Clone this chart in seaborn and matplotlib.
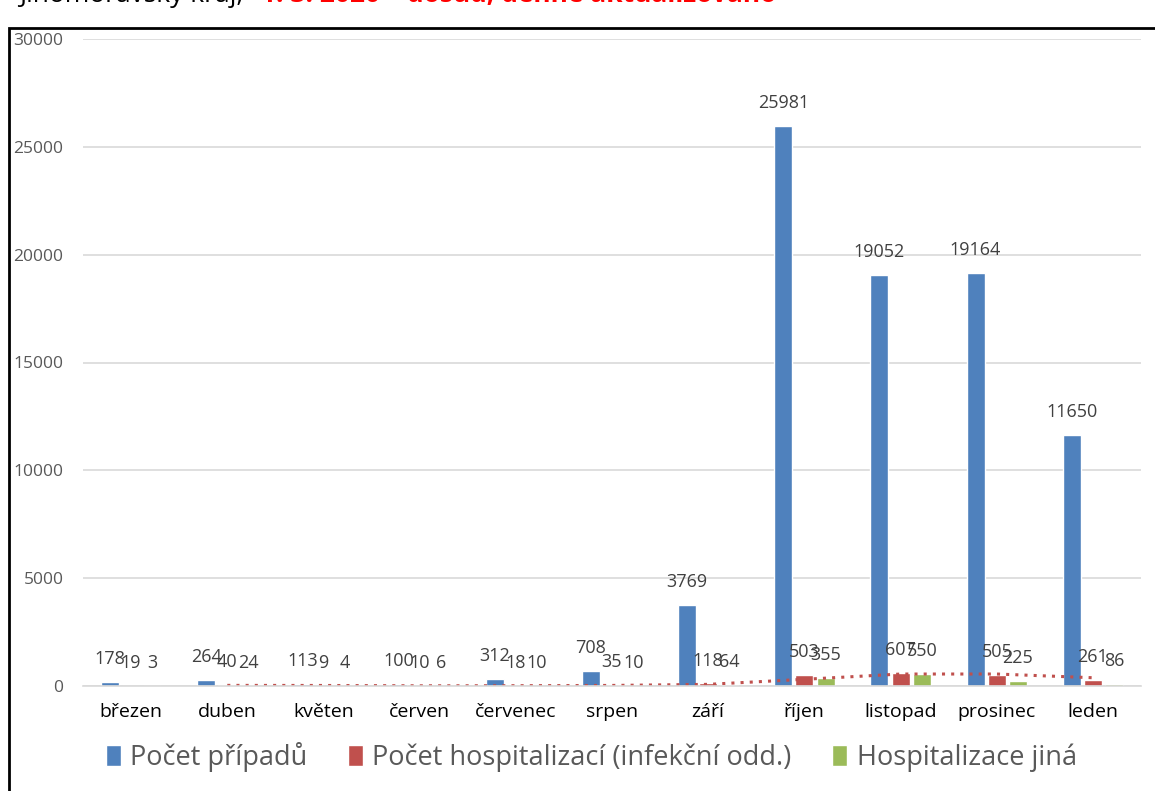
import pandas as pd
import matplotlib.pyplot as plt
from matplotlib.patches import Rectangle
import seaborn as sns

# data
mesice = ['březen', 'duben', 'květen', 'červen', 'červenec', 'srpen',
          'září', 'říjen', 'listopad', 'prosinec', 'leden']
pripady = [178, 264, 113, 100, 312, 708, 3769, 25981, 19052, 19164, 11650]
hosp_infekcni = [19, 40, 9, 10, 18, 35, 118, 503, 607, 505, 261]
hosp_jina = [3, 24, 4, 6, 10, 10, 64, 355, 550, 225, 86]
rady = ['Počet případů', 'Počet hospitalizací (infekční odd.)', 'Hospitalizace jiná']
barvy = ['#4F81BD', '#C0504D', '#9BBB59']

sns.set_style("white")
plt.rcParams['font.family'] = ['Open Sans', 'DejaVu Sans']

df = pd.DataFrame({
    'Měsíc': mesice * 3,
    'Hodnota': pripady + hosp_infekcni + hosp_jina,
    'Řada': [rady[0]] * 11 + [rady[1]] * 11 + [rady[2]] * 11,
})

fig = plt.figure(figsize=(11.55, 7.91), dpi=100)
ax = fig.add_axes([83 / 1155, 1 - 686 / 791, 1058 / 1155, (686 - 39) / 791])

sns.barplot(data=df, x='Měsíc', y='Hodnota', hue='Řada', hue_order=rady,
            palette=barvy, saturation=1, width=0.66, gap=0.15, ax=ax)

for cont in ax.containers:
    ax.bar_label(cont, padding=10, fontsize=13, color='#404040')

# klouzavý průměr (2 období) hospitalizací - tečkovaná spojnice trendu
trend = pd.Series(hosp_infekcni).rolling(2).mean()
ax.plot(range(1, 11), trend[1:], color='#C0504D', ls=(0, (1, 2)), lw=2.2)

ax.set_ylim(0, 30000)
ax.set_xlim(-0.5, 10.5)
ax.set_yticks(range(0, 30001, 5000))
ax.grid(axis='y', color='#d9d9d9', lw=1.2)
ax.set_axisbelow(True)
for s in ['left', 'right', 'top']:
    ax.spines[s].set_visible(False)
ax.spines['bottom'].set_color('#d9d9d9')
ax.spines['bottom'].set_linewidth(1.2)
ax.tick_params(axis='y', length=0, pad=14, labelsize=12.5, labelcolor='#595959')
ax.tick_params(axis='x', length=0, pad=12, labelsize=14, labelcolor='black')
ax.set_xlabel('')
ax.set_ylabel('')

handles, labels = ax.get_legend_handles_labels()
ax.legend(handles, labels, loc='center', bbox_to_anchor=(0.512, 1 - 757 / 791),
          bbox_transform=fig.transFigure, ncol=3, frameon=False, fontsize=19.5,
          labelcolor='#595959', handlelength=0.55, handleheight=0.8,
          handletextpad=0.35, columnspacing=1.5)

# oříznutý nadpis nad rámečkem grafu
fig.text(250 / 1155, 1 - 2 / 791, 'Jihomoravský kraj, ', ha='right', va='baseline',
         fontsize=19, color='black')
fig.text(261 / 1155, 1 - 2 / 791, '1. 3. 2020 – dosud, denně aktualizováno',
         ha='left', va='baseline', fontsize=19, color='red', fontweight='bold')

fig.add_artist(Rectangle((9 / 1155, -0.05), 1.1, 1.05 - 28 / 791, fill=False,
                         ec='black', lw=2, transform=fig.transFigure))

fig.savefig('out.png', dpi=100)
